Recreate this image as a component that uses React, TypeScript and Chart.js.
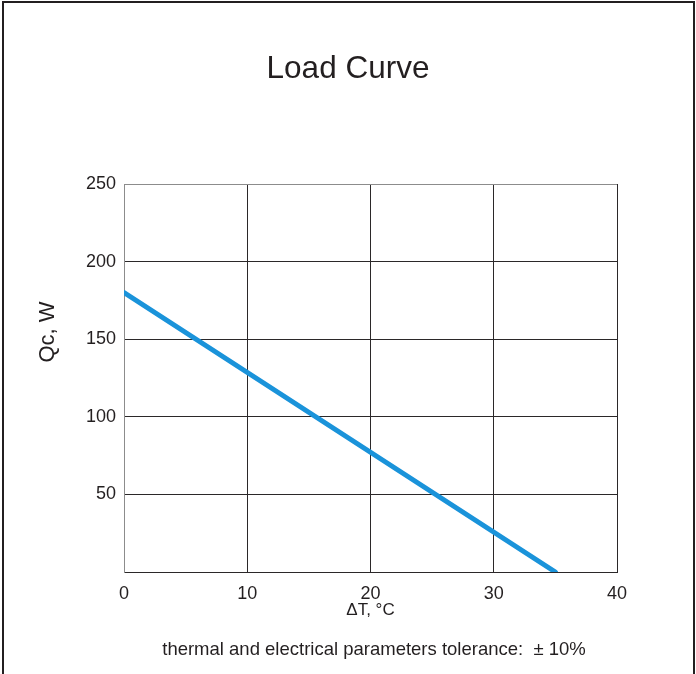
import React, { useEffect, useRef } from 'react';
import { Chart, registerables } from 'chart.js';

Chart.register(...registerables);

// ---- data ----
const deltaT = [0, 35];
const qc = [180, 0];
const xTickValues = [0, 10, 20, 30, 40];
const yTickValues = [0, 50, 100, 150, 200, 250];
const titleText = 'Load Curve';
const xTitleText = 'ΔT, °C';
const yTitleText = 'Qc, W';
const footnoteText = 'thermal and electrical parameters tolerance:  ± 10%';

const FONT = '"Liberation Sans", Arial, Helvetica, sans-serif';
const DARK = '#2b2829';
const GRAY = '#8c8c8c';
const LINE = '#1a93da';

const textPlugin = {
  id: 'textPlugin',
  afterDraw(chart: any) {
    const ctx = chart.ctx as CanvasRenderingContext2D;
    const area = chart.chartArea;
    ctx.save();
    // outer frame
    ctx.strokeStyle = '#231f20';
    ctx.lineWidth = 2;
    ctx.strokeRect(3, 2, 691, 700);
    ctx.fillStyle = '#231f20';
    // title
    ctx.font = `31.5px ${FONT}`;
    ctx.textAlign = 'center';
    ctx.textBaseline = 'alphabetic';
    ctx.fillText(titleText, 348, 78);
    // x title
    const cx = (area.left + area.right) / 2;
    ctx.font = `17px ${FONT}`;
    ctx.fillText(xTitleText, cx, 615);
    // footnote
    ctx.font = `18.5px ${FONT}`;
    ctx.fillText(footnoteText, 374, 655);
    // y title
    ctx.save();
    ctx.translate(54, 332);
    ctx.rotate(-Math.PI / 2);
    ctx.font = `22px ${FONT}`;
    ctx.textAlign = 'center';
    ctx.textBaseline = 'alphabetic';
    ctx.fillText(yTitleText, 0, 0);
    ctx.restore();
    ctx.restore();
  },
};

export default function App() {
  const ref = useRef<HTMLCanvasElement | null>(null);
  useEffect(() => {
    if (!ref.current) return;
    const chart = new Chart(ref.current, {
      type: 'line',
      data: {
        datasets: [
          {
            label: 'Qc',
            data: deltaT.map((x, i) => ({ x, y: qc[i] })),
            borderColor: LINE,
            borderWidth: 5,
            borderCapStyle: 'round',
            pointRadius: 0,
            fill: false,
            tension: 0,
          },
        ],
      },
      options: {
        animation: false,
        responsive: false,
        maintainAspectRatio: false,
        layout: { padding: { left: 0, right: 79, top: 184, bottom: 0 } },
        plugins: {
          legend: { display: false },
          tooltip: { enabled: false },
          title: { display: false },
        },
        scales: {
          x: {
            type: 'linear',
            min: xTickValues[0],
            max: xTickValues[xTickValues.length - 1],
            afterBuildTicks: (scale: any) => {
              scale.ticks = xTickValues.map((v) => ({ value: v }));
            },
            afterFit: (scale: any) => {
              scale.height = 102;
            },
            grid: {
              drawTicks: false,
              lineWidth: 1,
              color: (c: any) => (c.tick && c.tick.value === 0 ? GRAY : DARK),
            },
            border: { display: true, color: DARK, width: 1 },
            ticks: {
              padding: 11,
              color: '#231f20',
              font: { family: FONT, size: 18 },
              maxRotation: 0,
            },
          },
          y: {
            type: 'linear',
            min: yTickValues[0],
            max: yTickValues[yTickValues.length - 1],
            afterBuildTicks: (scale: any) => {
              scale.ticks = yTickValues.map((v) => ({ value: v }));
            },
            afterFit: (scale: any) => {
              scale.width = 124;
            },
            grid: {
              drawTicks: false,
              lineWidth: 1,
              color: (c: any) =>
                c.tick && c.tick.value === yTickValues[yTickValues.length - 1] ? GRAY : DARK,
            },
            border: { display: true, color: GRAY, width: 1 },
            ticks: {
              padding: 8,
              color: '#231f20',
              font: { family: FONT, size: 18 },
              callback: (v: any) => (v === 0 ? '' : String(v)),
            },
          },
        },
      },
      plugins: [textPlugin],
    });
    return () => chart.destroy();
  }, []);
  return (
    <div style={{ position: 'absolute', left: 0, top: 0, width: 696, height: 674, background: '#fff' }}>
      <canvas ref={ref} width={696} height={674} style={{ display: 'block', width: 696, height: 674 }} />
    </div>
  );
}
